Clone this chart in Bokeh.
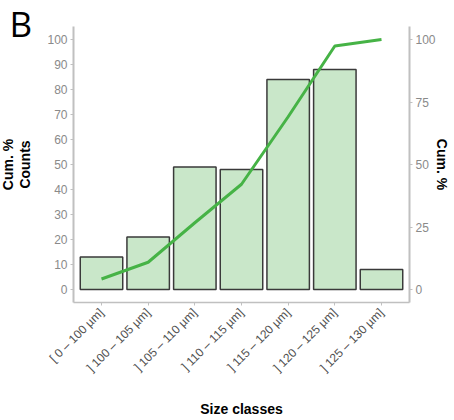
import math
from bokeh.plotting import figure
from bokeh.models import Range1d, LinearAxis, FixedTicker, FactorRange, Title
from bokeh.embed import file_html
from bokeh.resources import INLINE

size_classes = ["[ 0 – 100 µm]", "] 100 – 105 µm]", "] 105 – 110 µm]",
                "] 110 – 115 µm]", "] 115 – 120 µm]", "] 120 – 125 µm]",
                "] 125 – 130 µm]"]
counts = [13, 21, 49, 48, 84, 88, 8]
cum_pct = [4.2, 10.9, 26.7, 42.1, 69.1, 97.4, 100.0]
count_ticks = [0, 10, 20, 30, 40, 50, 60, 70, 80, 90, 100]
cum_ticks = [0, 25, 50, 75, 100]

FONT = "Liberation Sans"
W, H = 454, 420
FL, FR, FT, FB = 73, 409, 26, 302

p = figure(width=W, height=H, output_backend="svg", toolbar_location=None,
           x_range=FactorRange(factors=size_classes, range_padding=0.1,
                               range_padding_units="absolute"),
           y_range=Range1d(-5.2, 105.2),
           min_border_left=FL, min_border_right=W - FR,
           min_border_top=FT, min_border_bottom=H - FB)
p.outline_line_color = None
p.xgrid.visible = False
p.ygrid.visible = False
p.background_fill_color = "white"
p.border_fill_color = "white"
p.extra_y_ranges = {"cum": Range1d(-5.2, 105.2)}

p.vbar(x=size_classes, top=counts, width=0.91, bottom=0,
       fill_color="#c9e7c9", line_color="#3a3a3a", line_width=1.5)
p.line(x=size_classes, y=cum_pct, y_range_name="cum",
       line_color="#46b346", line_width=3)

AX_COL = "#c0c0c0"

def style(ax, lab_col):
    ax.axis_line_color = AX_COL
    ax.axis_line_width = 1.5
    ax.major_tick_line_color = AX_COL
    ax.major_tick_out = 3
    ax.major_tick_in = 0
    ax.minor_tick_line_color = None
    ax.major_label_text_font = FONT
    ax.major_label_text_font_size = "12px"
    ax.major_label_text_color = lab_col
    ax.axis_label_text_font = FONT
    ax.axis_label_text_font_style = "bold"
    ax.axis_label_text_font_size = "14px"
    ax.axis_label_text_color = "black"

ya = p.yaxis[0]
ya.ticker = FixedTicker(ticks=count_ticks)
style(ya, "#8a8a8a")
ya.major_label_standoff = 3
ya.axis_line_width = 2
ya.axis_label = "Counts"
ya.axis_label_standoff = 11

xa = p.xaxis[0]
style(xa, "#505050")
xa.major_label_orientation = math.pi / 4
xa.major_label_standoff = 5
xa.axis_label = "Size classes"
xa.axis_label_standoff = 18

ra = LinearAxis(y_range_name="cum", ticker=FixedTicker(ticks=cum_ticks),
                axis_label="Cum. %")
style(ra, "#8a8a8a")
ra.axis_line_width = 2
ra.major_label_standoff = 3
ra.axis_label_standoff = -5
p.add_layout(ra, "right")

cum_left = Title(text="Cum. %", text_font=FONT, text_font_size="14px",
                 text_font_style="bold", text_color="black", align="center",
                 vertical_align="middle", standoff=-4, offset=0)
p.add_layout(cum_left, "left")

panel_label = Title(text="B", text_font="Open Sans", text_font_size="35px",
                    text_font_style="normal", text_color="black", align="left",
                    vertical_align="bottom", standoff=-40, offset=-64)
p.add_layout(panel_label, "above")

open("out.html", "w").write(file_html(p, INLINE))
